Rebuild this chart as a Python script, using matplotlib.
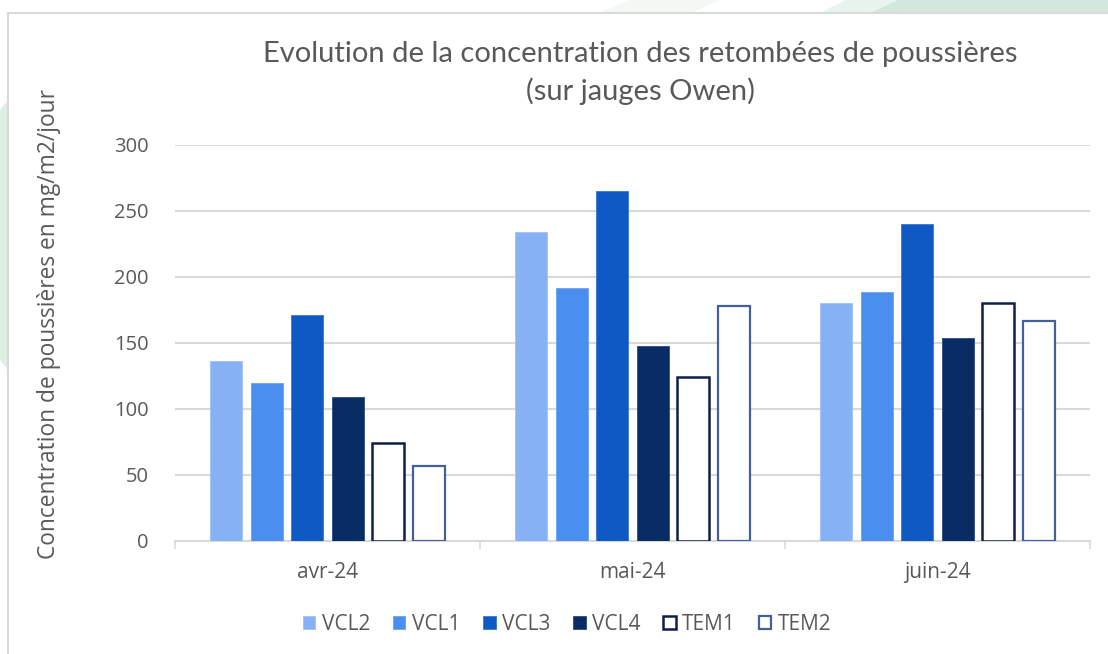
import matplotlib
matplotlib.use("Agg")
import matplotlib.pyplot as plt
import numpy as np
from matplotlib.patches import Rectangle, Polygon

plt.rcParams['font.family'] = ['Open Sans', 'DejaVu Sans']

categories = ["avr-24", "mai-24", "juin-24"]
series = ["VCL2", "VCL1", "VCL3", "VCL4", "TEM1", "TEM2"]
VCL2 = [136, 234, 180]
VCL1 = [120, 192, 189]
VCL3 = [171, 265, 240]
VCL4 = [109, 148, 154]
TEM1 = [74, 124, 180]
TEM2 = [57, 178, 167]
values = [VCL2, VCL1, VCL3, VCL4, TEM1, TEM2]
yticks = [0, 50, 100, 150, 200, 250, 300]

faces = ["#86B2F5", "#4A8EEF", "#0F59C4", "#082C63", "white", "white"]
edges = ["#9EC2F7", "#6AA2F2", "#3A76D0", "#2A4A7E", "#0D1F4A", "#44609A"]
lws = [0.6, 0.6, 0.6, 0.6, 1.8, 1.6]

W, H = 1108, 654
fig = plt.figure(figsize=(W / 100, H / 100), dpi=100)
fig.patch.set_facecolor("white")

# decorative background shapes
bg = fig.add_axes([0, 0, 1, 1], zorder=-10)
bg.set_xlim(0, W); bg.set_ylim(H, 0); bg.axis("off")
bg.add_patch(Polygon([[870, 13], [897, 0], [1108, 0], [1108, 13]], closed=True,
                     facecolor="#D2E8DD", edgecolor="none"))
bg.add_patch(Polygon([[820, 13], [845, 0], [897, 0], [870, 13]], closed=True,
                     facecolor="#EAF4EF", edgecolor="none"))
bg.add_patch(Polygon([[600, 13], [630, 0], [720, 0], [690, 13]], closed=True,
                     facecolor="#F3F8F5", edgecolor="none"))
bg.add_patch(Polygon([[0, 110], [8, 100], [8, 370], [0, 360]], closed=True,
                     facecolor="#DDEEE5", edgecolor="none"))
bg.add_patch(Rectangle((8, 13), W, H, facecolor="white", edgecolor="#D9D9D9", lw=1.5))

ax = fig.add_axes([175 / W, 1 - 541 / H, (1090 - 175) / W, (541 - 145) / H])
ax.set_facecolor("none")

n = len(series)
slot = 0.133
bw = 0.105
x = np.arange(len(categories)) + 0.5
for k in range(n):
    ax.bar(x + (k - (n - 1) / 2) * slot, values[k], width=bw, color=faces[k],
           edgecolor=edges[k], linewidth=lws[k], label=series[k], zorder=3)

ax.set_xlim(0, 3)
ax.set_ylim(0, 300)
ax.set_yticks(yticks)
ax.set_yticklabels([str(v) for v in yticks])
ax.yaxis.grid(True, color="#D9D9D9", linewidth=1.5, zorder=0)
ax.tick_params(axis="y", length=0, pad=19, labelsize=14.5, labelcolor="#595959")
ax.set_xticks(x)
ax.set_xticklabels(categories)
ax.tick_params(axis="x", which="major", length=0, pad=15, labelsize=15, labelcolor="#595959")
ax.set_xticks([0, 1, 2, 3], minor=True)
ax.tick_params(axis="x", which="minor", length=6, width=1.2, color="#D9D9D9")
for s in ["top", "right", "left"]:
    ax.spines[s].set_visible(False)
ax.spines["bottom"].set_color("#D9D9D9")
ax.spines["bottom"].set_linewidth(1.5)

fig.text(640 / W, 1 - 73 / H, "Evolution de la concentration des retombées de poussières\n(sur jauges Owen)",
         ha="center", va="center", fontsize=21, color="#595959", family=["Lato", "DejaVu Sans"],
         linespacing=1.5)
fig.text(49 / W, 1 - 324 / H, "Concentration de poussières en mg/m2/jour", rotation=90,
         ha="center", va="center", fontsize=16.4, color="#595959")

leg = fig.legend(loc="center", bbox_to_anchor=(567 / W, 1 - 624 / H), ncol=6, frameon=False,
                 fontsize=15, handlelength=0.6, handleheight=0.6, handletextpad=0.3,
                 columnspacing=1.1, labelcolor="#595959")

fig.savefig("out.png", dpi=100, facecolor=fig.get_facecolor())
